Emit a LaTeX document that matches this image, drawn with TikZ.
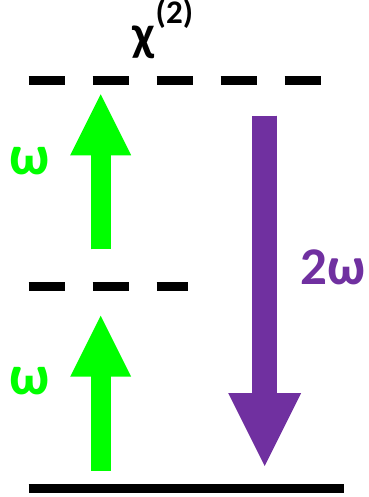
\documentclass[tikz,border=0pt]{standalone}
\usepackage{fontspec}
\setmainfont{Carlito}
\usetikzlibrary{arrows.meta}
\definecolor{pumpgreen}{RGB}{0,255,0}
\definecolor{shgpurple}{RGB}{112,48,160}

\begin{document}
\begin{tikzpicture}[x=1pt,y=-1pt,
		level/.style={line width=9pt,black},
		virtual/.style={level,dash pattern=on 36.5pt off 27.5pt},
		pump/.style={line width=20pt,pumpgreen,-{Triangle[width=61pt,length=61pt,line width=0pt]},
			preaction={draw,-,line width=20pt,pumpgreen,shorten >=45pt}},
		shg/.style={line width=24.7pt,shgpurple,-{Triangle[width=73pt,length=73pt,line width=0pt]},
			preaction={draw,-,line width=24.7pt,shgpurple,shorten >=55pt}},
		lbl/.style={font=\fontsize{#1}{#1}\selectfont\bfseries,inner sep=0pt}]
		\useasboundingbox (0,0) rectangle (368,497);
		% energy levels
		\coordinate (ground0) at (28.7,488);
		\coordinate (ground1) at (343.7,488);
		\coordinate (mid0) at (28.7,286);
		\coordinate (mid1) at (188.3,286);
		\coordinate (top0) at (28.7,80.5);
		\coordinate (top1) at (321.7,80.5);
		\draw[level] (ground0) -- (ground1);
		\draw[virtual] (mid0) -- (mid1);
		\draw[virtual] (top0) -- (top1);
		% photons
		\coordinate (pumpA) at (100.7,470.7);
		\coordinate (pumpB) at (100.7,315.7);
		\coordinate (pumpC) at (100.7,249.3);
		\coordinate (pumpD) at (100.7,94.3);
		\coordinate (shgA) at (264.7,115.7);
		\coordinate (shgB) at (264.7,466);
		\draw[pump] (pumpA) -- (pumpB);
		\draw[pump] (pumpC) -- (pumpD);
		\draw[shg] (shgA) -- (shgB);
		% labels
		\node[lbl=56,text=pumpgreen,anchor=base] (omegaLow) at (29.5,394) {ω};
		\node[lbl=56,text=pumpgreen,anchor=base] (omegaUp) at (29.5,175) {ω};
		\node[lbl=53,text=shgpurple,anchor=base west] (omegaTwo) at (300,284.3) {2ω};
		\node[lbl=50,anchor=base west] (chi) at (132,51) {χ\kern1pt\raisebox{27pt}{\fontsize{33}{33}\selectfont(2)}};
	\end{tikzpicture}
\end{document}
